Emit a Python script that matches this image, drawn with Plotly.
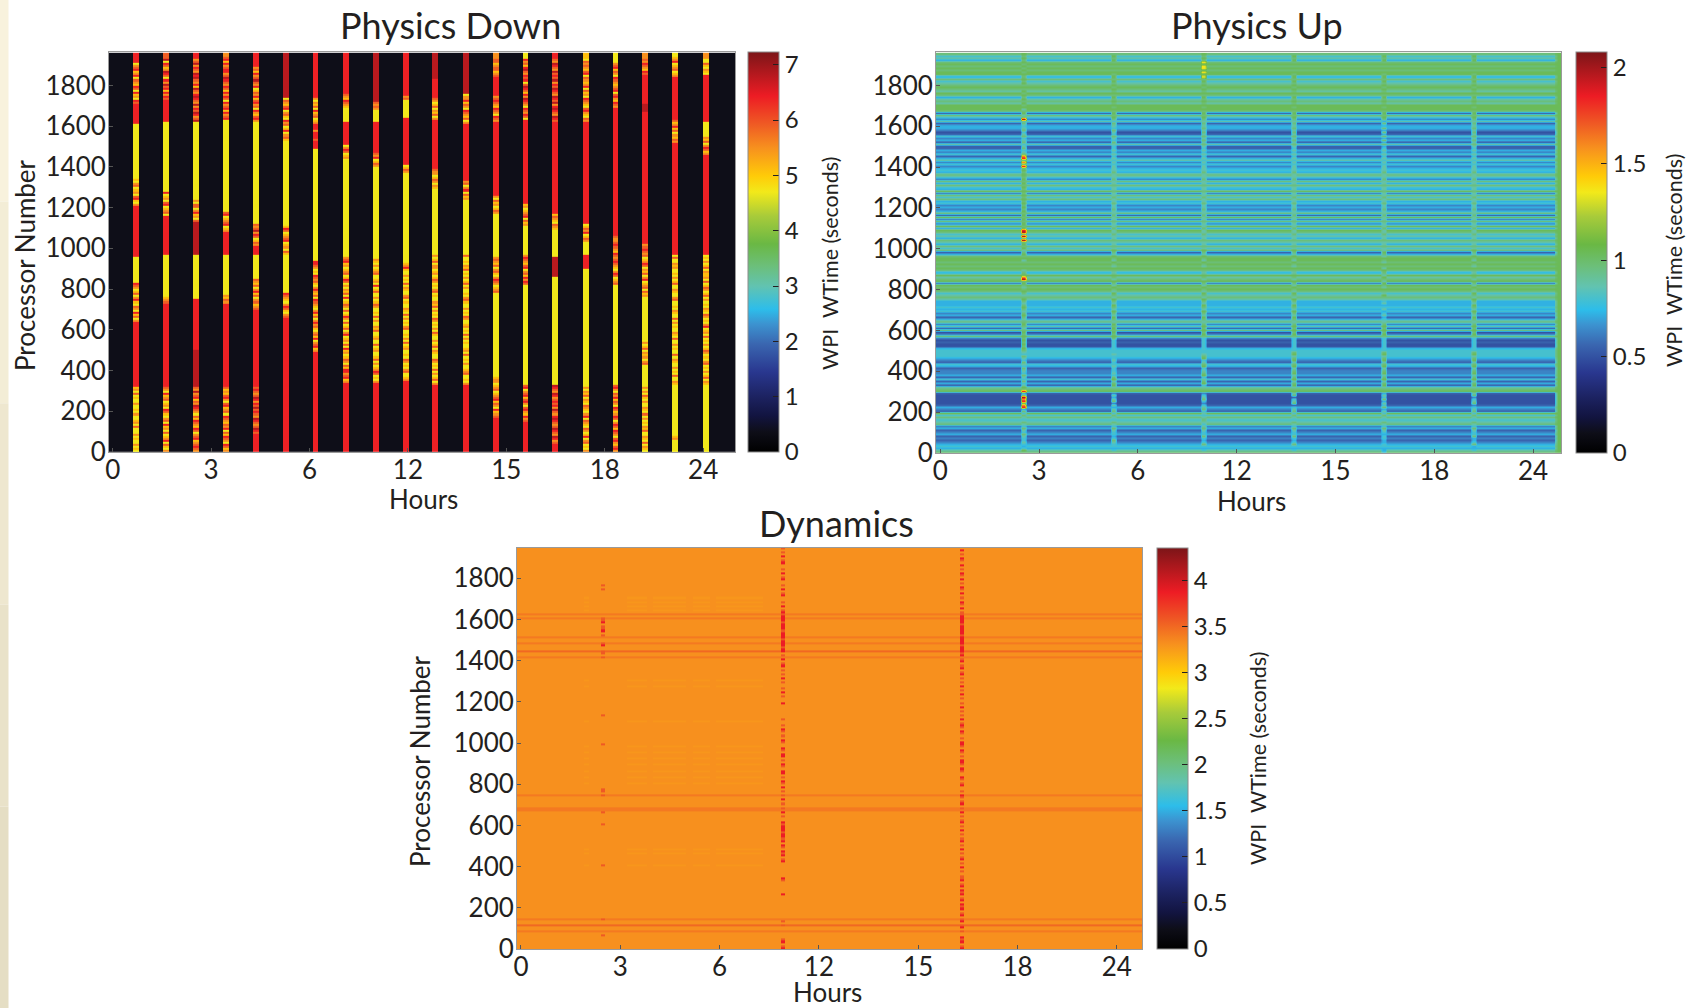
import plotly.graph_objects as go

W, H = 1689, 1008

COLORSCALE = [
    [0.00, "#000000"], [0.05, "#0e0e18"], [0.09, "#121440"], [0.137, "#1c2260"],
    [0.20, "#29378f"], [0.27, "#3a66b0"], [0.32, "#3c93d0"], [0.357, "#2dbdea"],
    [0.415, "#62c3b0"], [0.465, "#6cbf7a"], [0.52, "#6ab844"], [0.59, "#a8cb3a"],
    [0.65, "#f2e91a"], [0.69, "#ffcb08"], [0.76, "#f7911e"], [0.82, "#ef5a24"],
    [0.89, "#ed1c24"], [1.00, "#7c1518"],
]

X_TICK_TEXT = ["0", "3", "6", "12", "15", "18", "24"]
X_TICK_POS = [0, 3, 6, 9, 12, 15, 18]
Y_TICKS = [0, 200, 400, 600, 800, 1000, 1200, 1400, 1600, 1800]
ROW_STEP = 10
N_ROWS = 196

# ---------- Physics Down ----------
PD_ZMAX = 7.23
PD_CODES = {"k": 0.36, "Y": 4.7, "A": 5.1, "O": 5.5, "T": 5.9, "R": 6.4, "D": 6.8}
PD_CENTERS = [0.71, 1.625, 2.54, 3.454, 4.36, 5.283, 6.19, 7.10, 8.02, 8.94,
              9.835, 10.76, 11.69, 12.59, 13.49, 14.42, 15.32, 16.24, 17.15, 18.08]
PD_WIDTHS = [.185, .185, .185, .155, .185, .185, .155, .185, .185, .185,
             .185, .185, .185, .155, .185, .185, .155, .185, .185, .185]
# Each column: (first processor of the run, cell codes bottom to top)
PD_COLUMNS = [
    [(0, "YAYOYYAYOYYYTYOAYYOYAYYOYYAYTYOAY"), (320, "R"), (648, "OYTARYOTYAROYTAYOTRYA"), (850, "Y"), (970, "R"),
     (1229, "OYARTYOAYTOYA"), (1360, "Y"), (1635, "R"), (1744, "TRYOARYTRAOTYROARTOYRTAOR")],
    [(0, "OYATYROAYTYOARYTOYATRYOAYTOARYOTY"), (320, "R"), (730, "TOAY"), (770, "Y"), (970, "R"),
     (1163, "YTOAYRTYOAYRO"), (1291, "Y"), (1635, "R"), (1750, "TRORARTDORYTRDOATRYDTOR")],
    [(0, "OTRTOARTOYTRAOTRATYOTRDOTARTOD"), (320, "D"), (500, "R"), (750, "Y"), (975, "D"), (1139, "TYOAROYT"), (1254, "Y"),
     (1640, "DTORDTRODOTRDROTDAROTDRDOTRO")],
    [(0, "OATRYOTRATYROTAOTRYTOARTYORTA"), (320, "R"), (730, "OTA"), (770, "Y"), (975, "R"), (1090, "OAYRTOAYRT"), (1190, "Y"),
     (1640, "RTORARTORYTRORATROTRDTOR")],
    [(0, "R"), (90, "TRDTOTRDOTRTDTRORDTOTRTD"), (320, "R"), (700, "TOATOYTAROYTAOT"), (850, "Y"), (975, "R"), (1020, "OTAYTRODT"), (1130, "Y"),
     (1630, "ORTAORYTORTAROTAYROTDTORAT"), (1900, "R")],
    [(0, "R"), (664, "TOYATROYAOTRYAOTY"), (795, "Y"), (975, "ATYOAYRTOAYTRAYOTA"), (1130, "Y"), (1540, "ATOYRAYTORYATOYRTAOTY"), (1750, "D")],
    [(0, "R"), (485, "ROARTOYRATOYATOROYTAROYAOTRYTAOROYATOTRYAYOTR"), (950, "Y"), (1507, "RRRRTRRRORR"), (1635, "OAYTOARYTAOY"), (1770, "R")],
    [(0, "R"), (340, "OARTORRATYOTAYOARYTYOAYROYTAYTYORAYTYOTAYRYTAOYOYTRAYTOAY"), (960, "Y"), (1443, "OAYTROY"), (1520, "R"), (1630, "Y"), (1700, "AOTRAOT"), (1770, "R")],
    [(0, "R"), (340, "OYAYTROAYOYTAYYOAYTYYOAYYTAOYYOYTYAYYOTAYOYYTAYRYOAYYTOAYOYA"), (960, "Y"), (1408, "OTAYROT"), (1480, "R"), (1630, "Y"), (1690, "OT"), (1730, "D")],
    [(0, "R"), (340, "ROAYYTOYAYOTYAYYOAYTYOYAYYTOYAYOYTYAOYYAYTOYYAOYTYAYOYYA"), (950, "Y"), (1370, "OTAYR"), (1420, "R"), (1640, "Y"), (1730, "TO"), (1750, "R")],
    [(0, "R"), (330, "OYTAYOYTYAYOTYYAOYTAYOYYATYOYAYOTYAYOYTAOYYAYTOYAYOTAYOAYO"), (975, "Y"), (1300, "AOY"), (1330, "OTAYO"), (1400, "R"), (1645, "OYTAOYTAYOTRA"), (1770, "R"), (1850, "D")],
    [(0, "R"), (330, "OYAYYTOAYYOYAYTYOAYYAYOYTYAYOAYYOTYAYOYYATOYAYYOYTAYOYAYTA"), (975, "Y"), (1254, "OATYROYT"), (1352, "R"), (1640, "OYTAOTRYOTARO"), (1794, "D")],
    [(0, "R"), (173, "TOARYOTARTOAYTR"), (314, "OAYO"), (378, "Y"), (795, "TOAYOTROYATOYTAO"), (975, "Y"), (1188, "OTAYOATY"), (1278, "R"), (1640, "OTRYOTRAOTRTO"), (1770, "R"), (1860, "TOAT")],
    [(0, "R"), (150, "TORAORTYORTARTOYR"), (330, "Y"), (820, "TRORATOYRTAOTRO"), (975, "Y"), (1124, "OATYRTOAY"), (1237, "R"), (1640, "RYTROTRYOTRDORATRDTYRTROTDRATO")],
    [(0, "R"), (40, "TORDOTRDTOTRDROTDORTR"), (330, "Y"), (869, "D"), (975, "Y"), (1106, "AOTYAOT"), (1188, "R"), (1640, "TRDOTRDRODTRDOTRDTRODTRTDO")],
    [(0, "OYAYTOYRAYOTYAOTYROYAOTYAOYTAOY"), (330, "Y"), (903, "R"), (975, "Y"), (1041, "OTAYR"), (1133, "R"), (1640, "OTYAORTYAOTRYOATYROAOTYRTAOT")],
    [(0, "ORTAORTYOTRATROYTROATRYOTAROTY"), (330, "Y"), (829, "TOAYTROYAOTRT"), (967, "R"), (975, "OTRAOTRTO"), (1090, "R"), (1728, "OTRAORTYRTOAOTRYOTARTOY")],
    [(0, "YAOYTYAOYYTAOYAYOYTYAOYYOYATYOYO"), (330, "Y"), (430, "TOYOAOYTAYO"), (541, "Y"), (762, "OATYTOAYROYTAOYTROAYT"), (975, "OTRTO"), (1025, "R"), (1680, "D"), (1720, "R"), (1866, "TRAOTROTO")],
    [(0, "Y"), (60, "OA"), (80, "Y"), (330, "AOYYTYAYOYYAOYTYYAYOYYTYAOYYAYOYTYYAOYAYYTOYYAOYYTAYOYAYYO"), (975, "R"), (1530, "OTAOYTAROAT"), (1640, "R"), (1850, "OAYTOAYR")],
    [(0, "Y"), (330, "AOYTAYOYAYTOYAYOTAYOYAYTYOAYROYAYOTYAOYAYOYTAYOTAYTYOA"), (975, "R"), (1474, "OATROYTA"), (1570, "Y"), (1640, "R"), (1870, "YAOYATYYO")],
]

# ---------- Physics Up ----------
PU_ZMAX = 2.08
PU_CODES = {"a": 0.5, "b": 0.55, "c": 0.63, "d": 0.72, "e": 0.8, "f": 0.88, "g": 0.97, "h": 1.04,
            "y": 1.36, "p": 1.6, "r": 1.85, "k": 2.0}
PU_ROWS = (
    "gfdedcbcbd" "cbdcgfegeh" "bcdbaaaaab" "hgfbdbebdc" "cbdebcdeee" "edaabacgca"
    "gbfcgdbdce" "dedddfgfeg" "hghchgfhdg" "hghghhgdbg" "egdfgdfegh" "dhcgchbgdc"
    "dcedgegchd" "egdgcegded" "cecfdbecdb" "bfbdcebacd" "dbfcegbghh" "hfgfdghfgh"
    "gfegdhhghg" "hgdfeg"
)
PU_RIGHT_EDGE = "h"
PU_SPIKE_X = [2.524, 5.26, 7.99, 10.73, 13.46, 16.2]
PU_SPIKE_W = 0.16
PU_FLANK_W = 0.05
PU_EDGE_X = 18.67
PU_SPIKES = [
    [(0, "ghedefe"), (70, "efg"), (200, "gdrphrpk"), (300, "rghfe"), (350, "gef"), (500, "gh"), (600, "gfgh"), (850, "kp"), (870, "hgfhg"),
     (1040, "kgkgkr"), (1100, "hg"), (1400, "rgpgrpgk"), (1460, "gfe"), (1630, "k"), (1640, "gfh"), (1700, "gh")],
    [(0, "gedeef"), (100, "efg"), (200, "gfdfc"), (300, "hgf"), (380, "efe"), (500, "e"), (560, "gh"), (640, "fgh"), (1000, "fgf"), (1400, "fe"), (1500, "efg"), (1630, "gh")],
    [(0, "gede"), (100, "efgf"), (200, "egfec"), (300, "hgfe"), (500, "e"), (570, "gh"), (640, "fgh"), (1000, "fgf"), (1400, "fe"), (1500, "fg"), (1630, "gh"), (1840, "yhyhy"), (1920, "gh")],
    [(0, "gede"), (100, "efg"), (200, "gfeb"), (300, "hgf"), (500, "e"), (570, "gh"), (640, "fgh"), (1000, "fgf"), (1400, "fe"), (1500, "fg"), (1630, "gh")],
    [(0, "edde"), (100, "efg"), (200, "fdge"), (300, "hgf"), (500, "e"), (570, "gh"), (640, "fed"), (750, "fgh"), (1000, "fgf"), (1400, "fe"), (1500, "dg"), (1630, "gh")],
    [(0, "gedd"), (100, "efg"), (200, "gfec"), (300, "hgf"), (500, "e"), (570, "gh"), (640, "fgh"), (1000, "fgf"), (1400, "fe"), (1500, "fg"), (1630, "gh")],
]

# ---------- Dynamics ----------
DY_ZMAX = 4.35
DY_CODES = {"f": 3.28, "o": 3.31, "L": 3.42, "S": 3.5, "M": 3.57, "R": 3.87}
DY_HLINES = [80, 140, 670, 680, 740, 1410, 1480, 1510, 1600, 1620]
DY_HLINE_STRONG = [110, 1440]
DY_FAINT_ROWS = [400, 460, 480, 800, 830, 860, 890, 920, 950, 980, 1100, 1270, 1300, 1640, 1660, 1680, 1700]
DY_SPIKE_X = [2.48, 7.91, 13.32]
DY_SPIKE_W = 0.14
DY_SPIKES = [
    [(0, "o"), (60, "Mo"), (80, "o"), (140, "M"), (150, "o"), (400, "M"), (410, "o"), (600, "M"), (610, "o"), (660, "M"), (670, "o"), (740, "Mo"), (770, "M"), (780, "o"),
     (990, "M"), (1000, "o"), (1130, "M"), (1140, "o"), (1410, "Mo"), (1440, "M"), (1450, "o"), (1470, "RM"), (1490, "o"), (1520, "MoRM"), (1620, "o"), (1740, "MoM"), (1770, "o")],
    [(0, "RMoRMo"), (60, "o"), (110, "Mo"), (140, "o"), (260, "R"), (270, "o"), (330, "MR"), (350, "o"), (420, "RMoRMRoMRo"), (540, "RRMR"), (620, "o"), (640, "MoRoMo"),
     (780, "RoMRoMoR"), (980, "o"), (1000, "MRoMo"), (1090, "o"), (1110, "M"), (1120, "o"), (1190, "R"), (1200, "o"), (1220, "MoRoMoo"), (1350, "MoRMoRo"),
     (1440, "RRMR"), (1630, "RMoRoMoo"), (1940, "M")],
    [(0, "RMoRM"), (60, "o"), (70, "oR"), (80, "MoR"), (160, "RMoRMRo"), (350, "MoMoRoMoR"), (700, "RMoMRoMoo"), (850, "oMRoMRRoM"), (1090, "MoRoMo"), (1250, "MoRo"),
     (1310, "MoRMoR"), (1440, "RRRMR"), (1630, "MoRoMRo"), (1950, "M")],
]
DY_X_SEGMENTS = [(1.9, 2.05), (3.2, 3.8), (4.0, 5.0), (5.2, 5.7), (5.9, 7.3)]

# ---------- Layout values (pixels) ----------
PANELS = {
    "pd": dict(left=109, right=735, top=52, bottom=452, cb=748, xr=(-0.113, 18.97), top_proc=1964),
    "pu": dict(left=936, right=1561, top=52, bottom=453, cb=1576, xr=(-0.13, 18.85), top_proc=1964),
    "dy": dict(left=517, right=1142, top=548, bottom=949, cb=1157, xr=(-0.12, 18.76), top_proc=1947),
}
STRIP_COLORS = ["#f8f2dd", "#f3edd6", "#eee7cf", "#e9e2c9", "#e5dec4"]
FONT = "Lato, Liberation Sans, sans-serif"
INK = "#231f20"


def fill(segments):
    cells = []
    for i, (start, lit) in enumerate(segments):
        end = segments[i + 1][0] if i + 1 < len(segments) else N_ROWS * ROW_STEP
        count = (end - start) // ROW_STEP
        cells += [lit[j % len(lit)] for j in range(count)]
    cells += [cells[-1]] * (N_ROWS - len(cells))
    return cells[:N_ROWS]


y_edges = [i * ROW_STEP for i in range(N_ROWS + 1)]

# Physics Down grid
pd_x = [PANELS["pd"]["xr"][0]]
for c, w in zip(PD_CENTERS, PD_WIDTHS):
    pd_x += [c - w / 2, c + w / 2]
pd_x.append(PANELS["pd"]["xr"][1])
pd_cols = [fill(s) for s in PD_COLUMNS]
pd_z = []
for r in range(N_ROWS):
    row = [PD_CODES["k"]]
    for col in pd_cols:
        row += [PD_CODES[col[r]], PD_CODES["k"]]
    pd_z.append(row)

# Physics Up grid: wide | flank | spike | spike | flank | wide ...
pu_x = [PANELS["pu"]["xr"][0]]
for c in PU_SPIKE_X:
    pu_x += [c - PU_SPIKE_W / 2 - PU_FLANK_W, c - PU_SPIKE_W / 2, c, c + PU_SPIKE_W / 2, c + PU_SPIKE_W / 2 + PU_FLANK_W]
pu_x += [PU_EDGE_X - PU_FLANK_W, PU_EDGE_X, PANELS["pu"]["xr"][1]]
pu_cols = [fill(s) for s in PU_SPIKES]
base = list(PU_ROWS) + [PU_ROWS[-1]] * N_ROWS
pu_z = []
for r in range(N_ROWS):
    b = PU_CODES[base[r]]
    row = [b]
    for col in pu_cols:
        v = PU_CODES[col[r]]
        row += [b, v, v, b, b]
    row += [b, PU_CODES[PU_RIGHT_EDGE]]
    pu_z.append(row)

# Dynamics grid
marks = sorted(
    {PANELS["dy"]["xr"][0], PANELS["dy"]["xr"][1]}
    | {v for seg in DY_X_SEGMENTS for v in seg}
    | {c - DY_SPIKE_W / 2 for c in DY_SPIKE_X}
    | {c + DY_SPIKE_W / 2 for c in DY_SPIKE_X}
)
dy_cols = [fill(s) for s in DY_SPIKES]
dy_z = []
for r in range(N_ROWS):
    proc = r * ROW_STEP
    row = []
    for a, b in zip(marks[:-1], marks[1:]):
        mid = (a + b) / 2
        code = "o"
        if any(s[0] < mid < s[1] for s in DY_X_SEGMENTS) and proc in DY_FAINT_ROWS:
            code = "f"
        if proc in DY_HLINES:
            code = "L"
        if proc in DY_HLINE_STRONG:
            code = "S"
        for c, col in zip(DY_SPIKE_X, dy_cols):
            if abs(mid - c) < DY_SPIKE_W / 2 and col[r] != "o":
                code = col[r]
        row.append(DY_CODES[code])
    dy_z.append(row)

fig = go.Figure()
TRACES = [
    ("pd", pd_x, pd_z, PD_ZMAX, [0, 1, 2, 3, 4, 5, 6, 7], ["0", "1", "2", "3", "4", "5", "6", "7"], False),
    ("pu", pu_x, pu_z, PU_ZMAX, [0, .5, 1, 1.5, 2], ["0", "0.5", "1", "1.5", "2"], "best"),
    ("dy", marks, dy_z, DY_ZMAX, [0, .5, 1, 1.5, 2, 2.5, 3, 3.5, 4], ["0", "0.5", "1", "1.5", "2", "2.5", "3", "3.5", "4"], False),
]
layout_axes = {}
for i, (key, xs, zs, zmax, cbv, cbt, smooth) in enumerate(TRACES, start=1):
    p = PANELS[key]
    suffix = "" if i == 1 else str(i)
    fig.add_trace(go.Heatmap(
        x=xs, y=y_edges, z=zs, zmin=0, zmax=zmax, colorscale=COLORSCALE, hoverinfo="skip", zsmooth=smooth,
        xaxis=f"x{suffix}", yaxis=f"y{suffix}",
        colorbar=dict(
            x=p["cb"] / W, xanchor="left", xpad=0, ypad=0, thickness=31,
            y=1 - p["top"] / H, yanchor="top", len=(p["bottom"] - p["top"]) / H, lenmode="fraction",
            tickvals=cbv, ticktext=cbt, ticks="inside", ticklen=6, tickcolor="#231f20", tickwidth=1,
            tickfont=dict(family=FONT, size=24, color=INK), outlinecolor="#8c8c8c", outlinewidth=1,
            borderwidth=0,
        ),
    ))
    common = dict(showgrid=False, zeroline=False, showline=True, mirror=True, linecolor="#9a9a9a", linewidth=1,
                  ticks="inside", ticklen=4, tickcolor="#555",
                  tickfont=dict(family=FONT, size=26, color=INK))
    layout_axes[f"xaxis{suffix}"] = dict(
        domain=[p["left"] / W, p["right"] / W], range=list(p["xr"]), tickvals=X_TICK_POS, ticktext=X_TICK_TEXT,
        ticklabelstandoff=-5, anchor=f"y{suffix}", **common)
    layout_axes[f"yaxis{suffix}"] = dict(
        domain=[1 - p["bottom"] / H, 1 - p["top"] / H], range=[0, p["top_proc"]], tickvals=Y_TICKS,
        ticklabelstandoff=-3, anchor=f"x{suffix}", **common)


def label(text, px, py, size, angle=0):
    return dict(text=text, x=px / W, y=1 - py / H, xref="paper", yref="paper", xanchor="center", yanchor="middle",
                showarrow=False, textangle=angle, font=dict(family=FONT, size=size, color=INK))


annotations = [
    label("Physics Down", 450, 25, 36), label("Physics Up", 1257, 25, 36), label("Dynamics", 836, 523, 36),
    label("Hours", 423, 499, 26), label("Hours", 1251, 501, 26), label("Hours", 827, 992, 26),
    label("Processor Number", 25, 265, 26, -90), label("Processor Number", 420, 761, 26, -90),
    label("WPI  WTime (seconds)", 830, 264, 21.5, -90), label("WPI  WTime (seconds)", 1674, 261, 21.5, -90),
    label("WPI  WTime (seconds)", 1258, 759, 21.5, -90),
]

n = len(STRIP_COLORS)
shapes = [dict(type="rect", xref="paper", yref="paper", x0=0, x1=8.5 / W, y0=1 - (k + 1) / n, y1=1 - k / n,
               fillcolor=c, line=dict(width=0), layer="below") for k, c in enumerate(STRIP_COLORS)]

fig.update_layout(width=W, height=H, autosize=False, margin=dict(l=0, r=0, t=0, b=0, autoexpand=False),
                  paper_bgcolor="white", plot_bgcolor="white", showlegend=False,
                  annotations=annotations, shapes=shapes, **layout_axes)

fig.write_html("out.html", config={"displayModeBar": False},
               post_script="document.body.style.margin='0';document.documentElement.style.overflow='hidden';")
